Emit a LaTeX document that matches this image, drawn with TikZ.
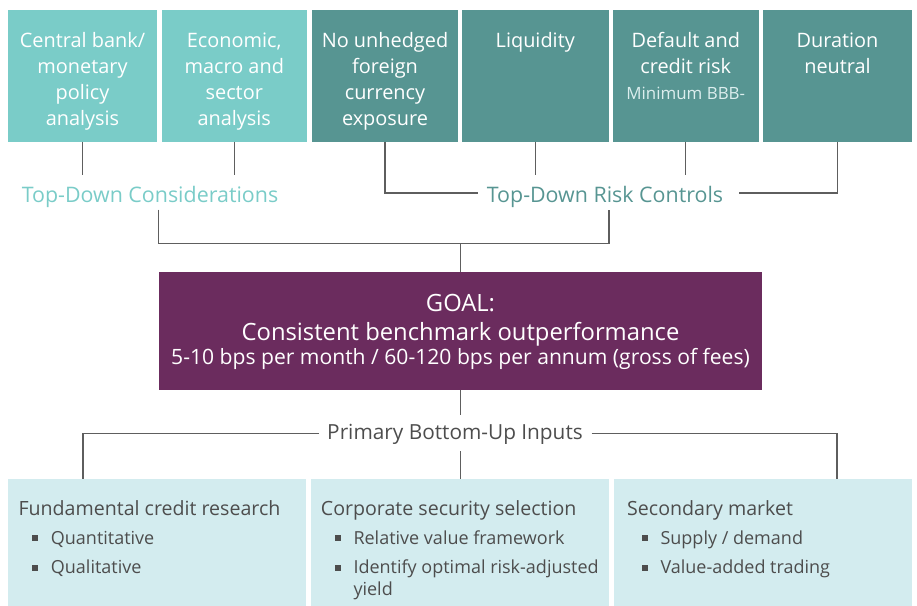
\documentclass[tikz,border=0pt]{standalone}
\usepackage{fontspec}
\setmainfont{Open Sans}
\usetikzlibrary{calc}
\definecolor{lteal}{HTML}{7ACCC8}
\definecolor{dteal}{HTML}{579592}
\definecolor{goalpurple}{HTML}{6B2C5E}
\definecolor{paleblue}{HTML}{D3ECEF}
\definecolor{darktext}{HTML}{4D4D4D}
\definecolor{linegray}{HTML}{5E5E5E}
\definecolor{mintext}{HTML}{DCEEEE}
\begin{document}
\begin{tikzpicture}[x=1pt,y=-1pt,
  boxbase/.style={anchor=north west, inner sep=0pt, outer sep=0pt, draw=none},
  topltbox/.style={boxbase, fill=lteal},
  topdkbox/.style={boxbase, fill=dteal},
  goalbox/.style={boxbase, fill=goalpurple},
  botbox/.style={boxbase, fill=paleblue},
  toptext/.style={anchor=north, align=center, inner sep=0pt, text=white, font=\fontsize{19.9}{26}\selectfont},
  mintxt/.style={anchor=base, inner sep=0pt, text=mintext, font=\fontsize{16.9}{18}\selectfont},
  headtext/.style={anchor=base, inner sep=0pt, font=\fontsize{21.4}{24}\selectfont},
  goaltext/.style={anchor=base, inner sep=0pt, text=white, font=\fontsize{23.8}{26}\selectfont},
  goalsmall/.style={anchor=base, inner sep=0pt, text=white, font=\fontsize{21.1}{24}\selectfont},
  bothead/.style={anchor=base west, inner sep=0pt, text=darktext, font=\fontsize{19.6}{22}\selectfont},
  bulltext/.style={anchor=base west, inner sep=0pt, text=darktext, font=\fontsize{18}{20}\selectfont},
  bullsq/.style={fill=darktext, inner sep=0pt, minimum size=6pt, draw=none},
  conn/.style={draw=linegray, line width=1.2pt}
]
\useasboundingbox (0,0) rectangle (917,605);

% top boxes
\node[topltbox, minimum width=149pt, minimum height=131.5pt] (b1) at (8,10) {};
\node[topltbox, minimum width=145.5pt, minimum height=131.5pt] (b2) at (161.5,10) {};
\node[topdkbox, minimum width=146pt, minimum height=131.5pt] (b3) at (312,10) {};
\node[topdkbox, minimum width=146.5pt, minimum height=131.5pt] (b4) at (462,10) {};
\node[topdkbox, minimum width=145.5pt, minimum height=131.5pt] (b5) at (613,10) {};
\node[topdkbox, minimum width=149pt, minimum height=131.5pt] (b6) at (763,10) {};

\node[toptext] (t1) at ($(b1.north)+(0,18.8)$) {\strut Central bank/\\monetary\\policy\\analysis};
\node[toptext] (t2) at ($(b2.north)+(0,18.8)$) {\strut Economic,\\macro and\\sector\\analysis};
\node[toptext] (t3) at ($(b3.north)+(0,18.8)$) {\strut No unhedged\\foreign\\currency\\exposure};
\node[toptext] (t4) at ($(b4.north)+(0,18.8)$) {\strut Liquidity};
\node[toptext] (t5) at ($(b5.north)+(0,18.8)$) {\strut Default and\\credit risk};
\node[mintxt] (t5b) at ($(b5.north)+(0,89)$) {Minimum BBB-};
\node[toptext] (t6) at ($(b6.north)+(0,18.8)$) {\strut Duration\\neutral};

% headings
\node[headtext, text=lteal] (tdc) at (150,202) {Top-Down Considerations};
\node[headtext, text=dteal] (tdr) at (605,202) {Top-Down Risk Controls};

% goal
\node[goalbox, minimum width=603pt, minimum height=117.5pt] (goal) at (159,272) {};
\node[goaltext] (g1) at ($(goal.north)+(0,39.7)$) {GOAL:};
\node[goaltext] (g2) at ($(goal.north)+(0,68)$) {Consistent benchmark outperformance};
\node[goalsmall] (g3) at ($(goal.north)+(0,92.3)$) {5-10 bps per month / 60-120 bps per annum (gross of fees)};

% primary
\node[headtext, text=darktext, font=\fontsize{20.8}{24}\selectfont] (pbu) at (455,439.3) {Primary Bottom-Up Inputs};

% bottom boxes
\node[botbox, minimum width=297.7pt, minimum height=127pt] (c1) at (8,479) {};
\node[botbox, minimum width=297.7pt, minimum height=127pt] (c2) at (311,479) {};
\node[botbox, minimum width=298.3pt, minimum height=127pt] (c3) at (613.7,479) {};

\node[bothead] (h1) at (18.3,515) {Fundamental credit research};
\node[bullsq] (s11) at (35,538.3) {};
\node[bulltext] (u11) at (50.7,544) {Quantitative};
\node[bullsq] (s12) at (35,567.6) {};
\node[bulltext] (u12) at (50.7,573.3) {Qualitative};

\node[bothead] (h2) at (320.7,515) {Corporate security selection};
\node[bullsq] (s21) at (338,538.3) {};
\node[bulltext] (u21) at (353.3,544) {Relative value framework};
\node[bullsq] (s22) at (338,567.6) {};
\node[bulltext] (u22) at (353.3,573.3) {Identify optimal risk-adjusted};
\node[bulltext] (u23) at (353.3,595) {yield};

\node[bothead] (h3) at (627,515) {Secondary market};
\node[bullsq] (s31) at (644.5,538.3) {};
\node[bulltext] (u31) at (660.3,544) {Supply / demand};
\node[bullsq] (s32) at (644.5,567.6) {};
\node[bulltext] (u32) at (660.3,573.3) {Value-added trading};

% coordinates
\coordinate (e1) at (b1.south |- 0,175);
\coordinate (e2) at (b2.south |- 0,175);
\coordinate (e4) at (b4.south |- 0,175);
\coordinate (e5) at (b5.south |- 0,175);
\coordinate (r3) at (b3.south |- 0,193);
\coordinate (r3e) at (478,193);
\coordinate (r6) at (b6.south |- 0,193);
\coordinate (r6e) at (738.5,193);
\coordinate (cl) at (158.5,209.5);
\coordinate (cr) at (609,209.5);
\coordinate (jn) at (goal.north |- 0,243.5);
\coordinate (pj) at (goal.south |- 0,415);
\coordinate (pl) at (83,433.3);
\coordinate (ple) at (319,433.3);
\coordinate (pr) at (837,433.3);
\coordinate (pre) at (591.7,433.3);
\coordinate (pc) at (goal.south |- 0,451);

% connectors
\draw[conn] (b1.south) -- (e1);
\draw[conn] (b2.south) -- (e2);
\draw[conn] (b4.south) -- (e4);
\draw[conn] (b5.south) -- (e5);
\draw[conn] (b3.south) -- (r3) -- (r3e);
\draw[conn] (b6.south) -- (r6) -- (r6e);
\draw[conn] (cl) |- (jn) -| (cr);
\draw[conn] (jn) -- (goal.north);
\draw[conn] (goal.south) -- (pj);
\draw[conn] (ple) -- (pl) -- (c1.north -| pl);
\draw[conn] (pre) -- (pr) -- (c3.north -| pr);
\draw[conn] (pc) -- (c2.north -| pc);
\end{tikzpicture}
\end{document}
